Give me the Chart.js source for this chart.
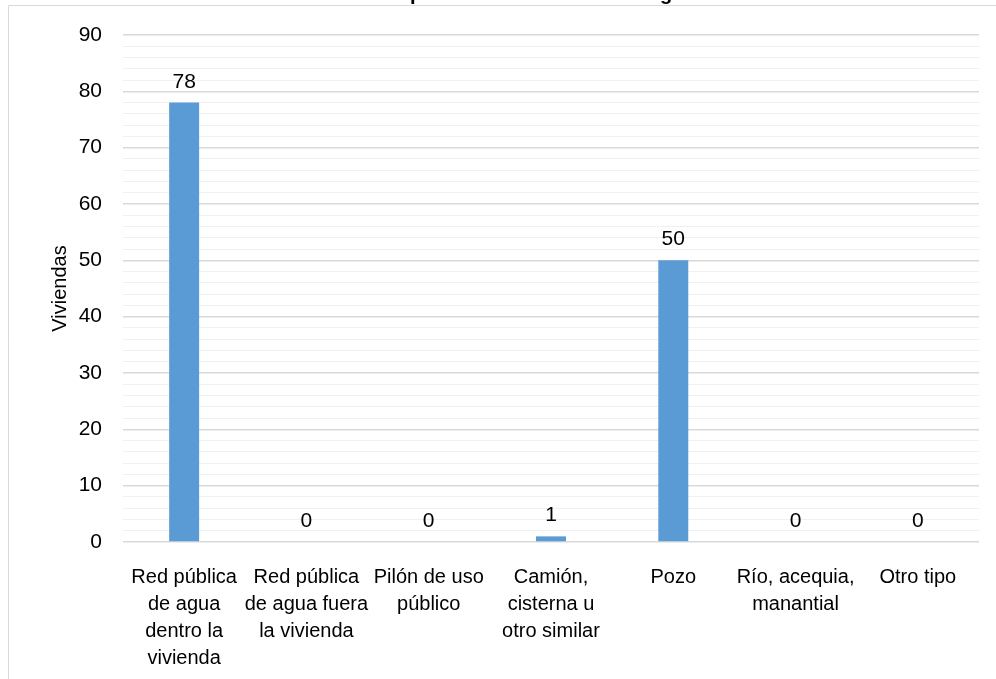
<!DOCTYPE html>
<html lang="es">
<head>
    <meta charset="UTF-8">
    <script src="https://cdn.jsdelivr.net/npm/chart.js"></script>
    <title>Tipo de abastecimiento de agua</title>
    <style>
      body { margin: 0; background: #fff; }
    </style>
</head>
<body>
    <canvas id="myChart" width="996" height="679"></canvas>
</body>
<script>
  // categorias y valores
  const categorias = [
    ['Red pública', 'de agua', 'dentro la', 'vivienda'],
    ['Red pública', 'de agua fuera', 'la vivienda'],
    ['Pilón de uso', 'público'],
    ['Camión,', 'cisterna u', 'otro similar'],
    ['Pozo'],
    ['Río, acequia,', 'manantial'],
    ['Otro tipo']
  ];
  const viviendas = [78, 0, 0, 1, 50, 0, 0];
  const titulo = 'Gráfico N° 10: Tipo de abastecimiento de agua';
  const tituloEje = 'Viviendas';

  const fuente = '"Liberation Sans", Arial, sans-serif';

  // marco gris y titulo (recortado arriba, como en la imagen)
  const marco = {
    id: 'marco',
    beforeDraw(chart) {
      const c = chart.ctx;
      c.save();
      c.fillStyle = '#fff';
      c.fillRect(0, 0, chart.width, chart.height);
      c.fillStyle = '#000';
      c.font = 'bold 20px ' + fuente;
      c.textAlign = 'center';
      c.textBaseline = 'alphabetic';
      c.fillText(titulo, 475, 0);
      c.fillStyle = '#fff';
      c.fillRect(0, 6, chart.width, 4);
      c.strokeStyle = '#d9d9d9';
      c.lineWidth = 1;
      c.beginPath();
      c.moveTo(8.5, chart.height);
      c.lineTo(8.5, 5.5);
      c.lineTo(chart.width, 5.5);
      c.stroke();
      c.restore();
    }
  };

  // etiquetas de valor sobre cada barra
  const etiquetas = {
    id: 'etiquetas',
    afterDatasetsDraw(chart) {
      const c = chart.ctx;
      const meta = chart.getDatasetMeta(0);
      c.save();
      c.fillStyle = '#000';
      c.font = '21px ' + fuente;
      c.textAlign = 'center';
      c.textBaseline = 'alphabetic';
      meta.data.forEach((bar, i) => {
        c.fillText(String(viviendas[i]), bar.x, bar.y - 15);
      });
      c.restore();
    }
  };

  const ctx = document.getElementById('myChart').getContext('2d');
  new Chart(ctx, {
    type: 'bar',
    data: {
      labels: categorias,
      datasets: [{
        label: tituloEje,
        data: viviendas,
        backgroundColor: '#5b9bd5',
        categoryPercentage: 1,
        barPercentage: 0.245
      }]
    },
    options: {
      responsive: false,
      animation: false,
      layout: { padding: { top: 35, right: 17, left: 0, bottom: 0 } },
      plugins: {
        legend: { display: false },
        tooltip: { enabled: false }
      },
      scales: {
        x: {
          grid: { display: false },
          border: { display: false },
          ticks: {
            color: '#000',
            padding: 14,
            maxRotation: 0,
            autoSkip: false,
            font: { family: fuente, size: 20, lineHeight: 1.35 }
          },
          afterFit(s) { s.height = 137; }
        },
        y: {
          min: 0,
          max: 90,
          border: { display: false },
          grid: {
            drawTicks: false,
            color: c => (c.tick && c.tick.value % 10 === 0) ? '#d9d9d9' : '#f0f0f0',
            lineWidth: c => (c.tick && c.tick.value % 10 === 0) ? 1.5 : 1
          },
          ticks: {
            stepSize: 2,
            autoSkip: false,
            maxTicksLimit: 100,
            color: '#000',
            padding: 21,
            font: { family: fuente, size: 21 },
            callback: v => (v % 10 === 0 ? v : '')
          },
          title: {
            display: true,
            text: tituloEje,
            color: '#000',
            font: { family: fuente, size: 20 },
            padding: { top: 48, bottom: 0 }
          },
          afterFit(s) { s.width = 123; }
        }
      }
    },
    plugins: [marco, etiquetas]
  });
</script>
</html>
